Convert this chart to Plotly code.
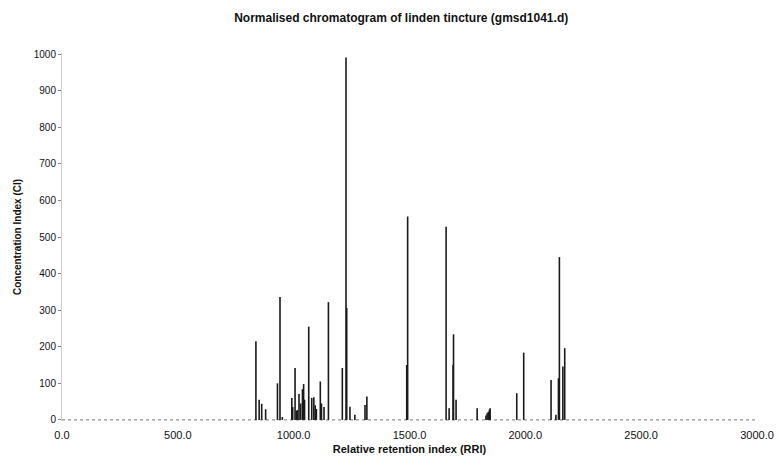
import plotly.graph_objects as go

# Peak retention indices (RRI) and concentration indices (CI)
peak_rri = [837, 851, 862, 879, 930, 941, 951, 992, 996, 1006, 1012, 1016, 1023, 1030,
            1038, 1043, 1047, 1065, 1078, 1087, 1093, 1098, 1115, 1120, 1131, 1150,
            1210, 1226, 1229, 1243, 1264, 1308, 1316, 1488, 1492, 1658, 1671, 1688,
            1690, 1701, 1792, 1830, 1835, 1840, 1845, 1848, 1963, 1993, 2111, 2132,
            2143, 2147, 2162, 2170]
peak_ci = [215, 55, 44, 29, 100, 336, 8, 60, 35, 142, 25, 27, 71, 45,
           84, 98, 55, 255, 60, 62, 40, 30, 105, 45, 35, 322,
           142, 991, 306, 36, 14, 41, 64, 150, 556, 528, 32, 150,
           234, 55, 32, 12, 18, 22, 28, 32, 73, 184, 109, 14,
           114, 445, 146, 196]

baseline_x = [0, 3000]
baseline_y = [0, 0]

x_ticks = [0, 500, 1000, 1500, 2000, 2500, 3000]
y_ticks = [0, 100, 200, 300, 400, 500, 600, 700, 800, 900, 1000]

# Build stick spectrum
sx, sy = [], []
for x, y in zip(peak_rri, peak_ci):
    sx += [x, x, None]
    sy += [0, y, None]

fig = go.Figure()
fig.add_trace(go.Scatter(x=baseline_x, y=baseline_y, mode="lines",
                         line=dict(color="#777777", width=1, dash="dot"),
                         hoverinfo="skip", showlegend=False, cliponaxis=False))
fig.add_trace(go.Scatter(x=sx, y=sy, mode="lines",
                         line=dict(color="#1a1a1a", width=1.6),
                         showlegend=False))

font_family = "Liberation Sans, Arial, sans-serif"
fig.update_layout(
    width=779, height=469,
    margin=dict(l=62, r=22, t=53, b=48),
    paper_bgcolor="white", plot_bgcolor="white",
    font=dict(family=font_family, size=10, color="#111111"),
    title=dict(text="<b>Normalised chromatogram of linden tincture (gmsd1041.d)</b>",
               x=0.515, xanchor="center", y=0.962, yanchor="middle",
               font=dict(size=12, color="#111111")),
    xaxis=dict(range=[0, 3000], tickvals=x_ticks, tickformat=".1f",
               showgrid=False, zeroline=False, showline=False, automargin=False,
               ticks="", ticklabelstandoff=6, tickfont=dict(size=11),
               title=dict(text="<b>Relative retention index (RRI)</b>",
                          font=dict(size=11), standoff=5)),
    yaxis=dict(range=[-3, 1003], tickvals=y_ticks, automargin=False,
               showgrid=False, zeroline=False, showline=True,
               linecolor="#cccccc", linewidth=1,
               ticks="outside", ticklen=3, tickcolor="#888888",
               title=dict(text="<b>Concentration Index (CI)</b>",
                          font=dict(size=10), standoff=10)),
)

fig.write_html("out.html", config={"displayModeBar": False},
               post_script="document.body.style.margin='0';document.body.style.overflow='hidden';")
